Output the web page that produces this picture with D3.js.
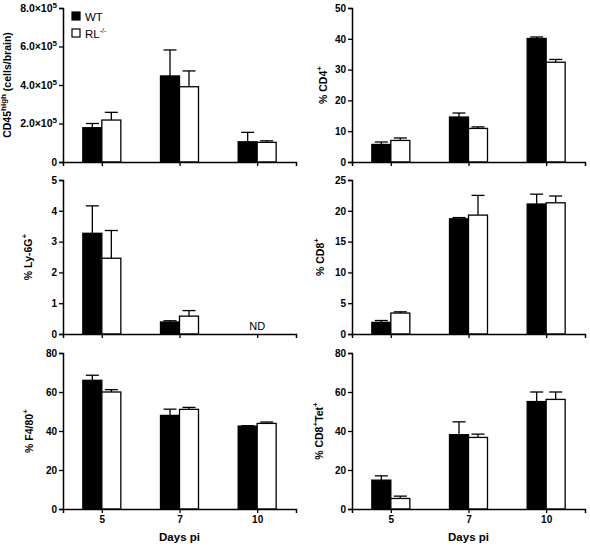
<!DOCTYPE html>
<html>
<head>
<meta charset="utf-8">
<script src="https://cdn.jsdelivr.net/npm/d3@7"></script>
<style>
  html, body { margin: 0; padding: 0; background: #fff; }
  svg { display: block; }
  text { font-family: "Liberation Sans", Arial, sans-serif; fill: #000; }
</style>
</head>
<body>
<svg id="chart" width="590" height="547"></svg>
<script>
// ---------- data ----------
const days = ["5", "7", "10"];
const seriesNames = ["WT", "RL"];

const cd45WT = [1.78e5, 4.47e5, 1.05e5];
const cd45WTsem = [0.22e5, 1.35e5, 0.49e5];
const cd45RL = [2.18e5, 3.91e5, 1.02e5];
const cd45RLsem = [0.40e5, 0.82e5, 0.08e5];
const cd45Ticks = [0, 2e5, 4e5, 6e5, 8e5];

const cd4WT = [5.7, 14.6, 40.1];
const cd4WTsem = [0.8, 1.3, 0.5];
const cd4RL = [7.0, 10.9, 32.4];
const cd4RLsem = [0.8, 0.5, 0.9];
const cd4Ticks = [0, 10, 20, 30, 40, 50];

const ly6gWT = [3.27, 0.39, null];
const ly6gWTsem = [0.89, 0.04, null];
const ly6gRL = [2.46, 0.58, null];
const ly6gRLsem = [0.90, 0.18, null];
const ly6gTicks = [0, 1, 2, 3, 4, 5];

const cd8WT = [1.89, 18.7, 21.1];
const cd8WTsem = [0.3, 0.2, 1.6];
const cd8RL = [3.4, 19.3, 21.3];
const cd8RLsem = [0.2, 3.2, 1.1];
const cd8Ticks = [0, 5, 10, 15, 20, 25];

const f480WT = [66.0, 48.0, 42.5];
const f480WTsem = [2.6, 3.2, 0.2];
const f480RL = [60.0, 51.1, 43.9];
const f480RLsem = [1.2, 1.0, 0.7];
const f480Ticks = [0, 20, 40, 60, 80];

const tetWT = [14.8, 38.1, 55.1];
const tetWTsem = [2.2, 6.6, 4.9];
const tetRL = [5.4, 36.7, 56.2];
const tetRLsem = [1.2, 1.7, 3.8];
const tetTicks = [0, 20, 40, 60, 80];

const xTitle = "Days pi";

// ---------- layout ----------
const svg = d3.select("#chart");
const colX = [63, 352];
const plotW = 233;
const rows = [[8, 162], [180, 334], [353, 509]];
const barW = 19;

const panels = [
  { col: 0, row: 0, wt: cd45WT, wtSem: cd45WTsem, rl: cd45RL, rlSem: cd45RLsem, ticks: cd45Ticks, sci: true,
    title: [["CD45", 0], ["high", 1], [" (cells/brain)", 0]], titleX: 11, legend: true },
  { col: 1, row: 0, wt: cd4WT, wtSem: cd4WTsem, rl: cd4RL, rlSem: cd4RLsem, ticks: cd4Ticks,
    title: [["% CD4", 0], ["+", 1]], titleX: 327 },
  { col: 0, row: 1, wt: ly6gWT, wtSem: ly6gWTsem, rl: ly6gRL, rlSem: ly6gRLsem, ticks: ly6gTicks,
    title: [["% Ly-6G", 0], ["+", 1]], titleX: 32, nd: 2 },
  { col: 1, row: 1, wt: cd8WT, wtSem: cd8WTsem, rl: cd8RL, rlSem: cd8RLsem, ticks: cd8Ticks,
    title: [["% CD8", 0], ["+", 1]], titleX: 324 },
  { col: 0, row: 2, wt: f480WT, wtSem: f480WTsem, rl: f480RL, rlSem: f480RLsem, ticks: f480Ticks,
    title: [["% F4/80", 0], ["+", 1]], titleX: 33, bottom: true },
  { col: 1, row: 2, wt: tetWT, wtSem: tetWTsem, rl: tetRL, rlSem: tetRLsem, ticks: tetTicks,
    title: [["% CD8", 0], ["+", 1], ["Tet", 0], ["+", 1]], titleX: 323, bottom: true }
];

const BOLD = "font-weight:bold";
const NORMAL = "font-weight:normal";

panels.forEach(p => {
  const x0 = colX[p.col];
  const [top, bot] = rows[p.row];
  const g = svg.append("g").attr("transform", `translate(${x0},0)`);

  const x = d3.scalePoint().domain(days).range([0, plotW]).padding(0.5);
  const xs = d3.scaleBand().domain(seriesNames).range([-barW, barW]).padding(0);
  const y = d3.scaleLinear().domain([p.ticks[0], p.ticks[p.ticks.length - 1]]).range([bot, top]);

  const data = [];
  days.forEach((d, i) => {
    data.push({ day: d, s: "WT", v: p.wt[i], e: p.wtSem[i] });
    data.push({ day: d, s: "RL", v: p.rl[i], e: p.rlSem[i] });
  });
  const valid = data.filter(d => d.v != null);

  // error bars (upper only)
  const eg = g.append("g");
  valid.forEach(d => {
    const cx = x(d.day) + xs(d.s) + xs.bandwidth() / 2;
    eg.append("line").attr("x1", cx).attr("x2", cx)
      .attr("y1", y(d.v)).attr("y2", y(d.v + d.e))
      .attr("stroke", "#000").attr("stroke-width", 1.3);
    eg.append("line").attr("x1", cx - 6.5).attr("x2", cx + 6.5)
      .attr("y1", y(d.v + d.e)).attr("y2", y(d.v + d.e))
      .attr("stroke", "#000").attr("stroke-width", 1.3);
  });

  g.append("g").selectAll("rect").data(valid).join("rect")
    .attr("x", d => x(d.day) + xs(d.s))
    .attr("y", d => y(d.v))
    .attr("width", xs.bandwidth())
    .attr("height", d => y(0) - y(d.v))
    .attr("fill", d => d.s === "WT" ? "#000" : "#fff")
    .attr("stroke", "#000")
    .attr("stroke-width", 1.3);

  // y axis
  const yAxis = d3.axisLeft(y).tickValues(p.ticks).tickSizeOuter(0).tickSize(4).tickPadding(2)
    .tickFormat(d => d === 0 ? "0" : (p.sci ? "" : d3.format("d")(d)));
  const ya = g.append("g").call(yAxis);
  ya.select(".domain").attr("stroke-width", 1.5);
  ya.selectAll(".tick line").attr("stroke-width", 1.3);
  ya.selectAll("text").attr("font-size", 10).attr("font-family", "Liberation Sans, Arial, sans-serif").attr("style", BOLD);
  if (p.sci) {
    ya.selectAll(".tick text").each(function (d) {
      if (d === 0) return;
      const t = d3.select(this).text(null).attr("font-size", 10.5);
      t.append("tspan").text((d / 1e5).toFixed(1) + "\u00d710");
      t.append("tspan").attr("font-size", 8).attr("dy", -4).text("5");
    });
  }

  // x axis
  const xAxis = d3.axisBottom(x).tickSizeOuter(0).tickSize(4).tickPadding(3)
    .tickFormat(p.bottom ? (d => d) : (() => ""));
  const xa = g.append("g").attr("transform", `translate(0,${bot})`).call(xAxis);
  xa.select(".domain").attr("stroke-width", 1.5);
  xa.selectAll(".tick line").attr("stroke-width", 1.3);
  xa.selectAll("text").attr("font-size", 10).attr("font-family", "Liberation Sans, Arial, sans-serif").attr("style", BOLD);

  if (p.bottom) {
    g.append("text").attr("x", plotW / 2).attr("y", 541)
      .attr("text-anchor", "middle").attr("font-size", 11.5).attr("style", BOLD).text(xTitle);
  }

  if (p.nd != null) {
    g.append("text").attr("x", x(days[p.nd])).attr("y", bot - 4)
      .attr("text-anchor", "middle").attr("font-size", 11).attr("style", NORMAL).text("ND");
  }

  // y title
  const t = svg.append("text")
    .attr("transform", `translate(${p.titleX},${(top + bot) / 2}) rotate(-90)`)
    .attr("text-anchor", "middle").attr("font-size", 10.5).attr("style", BOLD);
  p.title.forEach(([s, sup], i) => {
    const ts = t.append("tspan").text(s);
    if (sup) ts.attr("font-size", 8).attr("dy", -5);
    else if (i > 0 && p.title[i - 1][1]) ts.attr("dy", 5);
  });

  // legend
  if (p.legend) {
    const lg = g.append("g").attr("transform", "translate(9,12)");
    seriesNames.forEach((s, i) => {
      lg.append("rect").attr("x", 0).attr("y", i * 17).attr("width", 8).attr("height", 8)
        .attr("fill", s === "WT" ? "#000" : "#fff").attr("stroke", "#000").attr("stroke-width", 1.2);
      const tx = lg.append("text").attr("x", 13).attr("y", i * 17 + 8.5)
        .attr("font-size", 11.5).attr("style", NORMAL);
      if (s === "WT") tx.text("WT");
      else {
        tx.append("tspan").text("RL");
        tx.append("tspan").attr("font-size", 7).attr("dy", -5).text("-/-");
      }
    });
  }
});
</script>
</body>
</html>
